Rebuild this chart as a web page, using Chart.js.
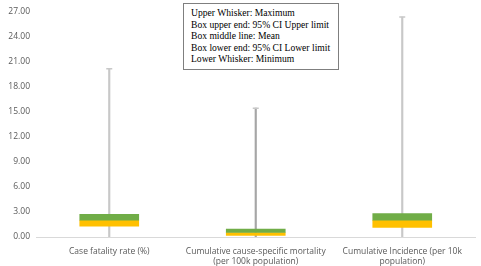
<!DOCTYPE html>
<html>
<head>
<meta charset="utf-8">
<script src="https://cdn.jsdelivr.net/npm/chart.js@4"></script>
<style>
  html, body { margin: 0; padding: 0; background: #fff; }
  #wrap { position: relative; width: 481px; height: 266px; }
  #note {
    position: absolute; left: 183px; top: 3px; width: 156px; height: 67px;
    border: 1px solid #7f7f7f; background: #fff;
    font-family: "Liberation Serif", serif; font-size: 9.6px; line-height: 11.5px;
    color: #000; padding: 3px 0 0 7px; box-sizing: border-box; white-space: nowrap;
  }
</style>
</head>
<body>
<div id="wrap">
  <canvas id="myChart" width="481" height="266"></canvas>
  <div id="note">
    Upper Whisker: Maximum<br>
    Box upper end: 95% CI Upper limit<br>
    Box middle line: Mean<br>
    Box lower end: 95% CI Lower limit<br>
    Lower Whisker: Minimum
  </div>
</div>
<script>
var labels = [
    'Case fatality rate (%)',
    ['Cumulative cause-specific mortality', '(per 100k population)'],
    ['Cumulative Incidence (per 10k', 'population)']
];
var minimum = [0, 0, 0];
var maximum = [20.1, 15.4, 26.3];
var ciLower = [1.3, 0.18, 1.15];
var mean = [2.0, 0.54, 2.0];
var ciUpper = [2.7, 0.94, 2.8];

function pairs(a, b) {
    return a.map(function (v, i) { return [v, b[i]]; });
}

var ctx = document.getElementById('myChart');

var myChart = new Chart(ctx, {
    type: 'bar',
    data: {
        labels: labels,
        datasets: [{
                label: 'whisker',
                data: pairs(minimum, maximum),
                backgroundColor: ['#c8c8c8', '#a6a6a6', '#c8c8c8'],
                barThickness: 1.5,
                grouped: false,
                order: 4
            }, {
                label: 'cap',
                type: 'line',
                data: maximum,
                showLine: false,
                pointStyle: 'line',
                pointRadius: 3,
                pointBorderWidth: 1.5,
                borderColor: '#c8c8c8',
                backgroundColor: '#c8c8c8',
                order: 3
            }, {
                label: 'lower',
                data: pairs(ciLower, mean),
                backgroundColor: '#ffc000',
                barThickness: 59,
                grouped: false,
                order: 2
            }, {
                label: 'upper',
                data: pairs(mean, ciUpper),
                backgroundColor: '#70ad47',
                barThickness: 59,
                grouped: false,
                order: 1
            }]
    },
    options: {
        responsive: false,
        animation: false,
        layout: {padding: {top: 7, right: 0, left: 0, bottom: 0}},
        plugins: {
            legend: {display: false},
            tooltip: {enabled: false}
        },
        scales: {
            x: {
                grid: {display: false, drawTicks: false},
                border: {color: '#d9d9d9', width: 1},
                ticks: {
                    color: '#595959',
                    font: {family: 'Open Sans', size: 8.5, lineHeight: 1.25},
                    maxRotation: 0,
                    padding: 9
                },
                afterFit: function (axis) { axis.height = 29; }
            },
            y: {
                min: 0,
                max: 27,
                grid: {display: false, drawTicks: false},
                border: {display: false},
                ticks: {
                    stepSize: 3,
                    color: '#595959',
                    font: {family: 'Open Sans', size: 8.5},
                    padding: 6,
                    callback: function (v) { return v.toFixed(2); }
                },
                afterFit: function (axis) { axis.width = 36; }
            }
        }
    }
});
</script>
</body>
</html>
